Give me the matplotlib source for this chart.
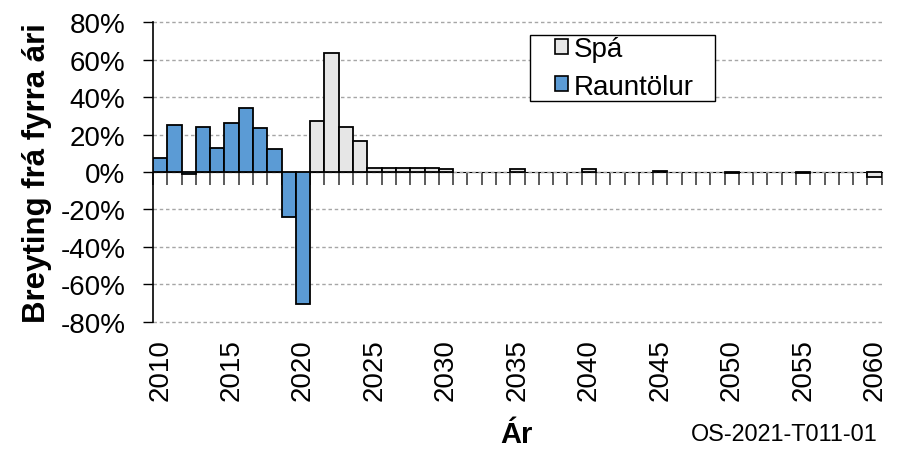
import numpy as np
import matplotlib
matplotlib.use("Agg")
import matplotlib.pyplot as plt
from matplotlib.ticker import FuncFormatter, MultipleLocator
from matplotlib.patches import Patch, Rectangle

plt.rcParams['font.family'] = ['Liberation Sans', 'DejaVu Sans']

# actual figures (Rauntölur)
actual_years = [2010, 2011, 2012, 2013, 2014, 2015, 2016, 2017, 2018, 2019, 2020]
actual_change = [7.3, 25.1, -1.1, 23.9, 12.7, 26.4, 34.2, 23.5, 12.3, -24.1, -70.4]

# forecast (Spá)
forecast_years = [2021, 2022, 2023, 2024, 2025, 2026, 2027, 2028, 2029, 2030,
                  2035, 2040, 2045, 2050, 2055, 2060]
forecast_change = [27.3, 63.8, 23.9, 16.4, 2.1, 2.1, 2.1, 2.1, 2.0, 1.8,
                   1.7, 1.4, 0.7, -0.3, -0.6, -2.7]

first_year, last_year = 2010, 2060
label_years = list(range(2010, 2061, 5))

blue = '#5B9BD5'
light = '#E6E6E6'

fig = plt.figure(figsize=(8.97, 4.56), dpi=100)
ax = fig.add_axes([0.1706, 0.2923, 0.8124, 0.6565])

ax.bar(np.array(forecast_years) - first_year, forecast_change, width=1.0,
       color=light, edgecolor='black', linewidth=1.3, zorder=3)
ax.bar(np.array(actual_years) - first_year, actual_change, width=1.0,
       color=blue, edgecolor='black', linewidth=1.3, zorder=3)

ax.set_xlim(-0.5, last_year - first_year + 0.5)
ax.set_ylim(-80, 80)

# y axis
ax.yaxis.set_major_locator(MultipleLocator(20))
ax.yaxis.set_major_formatter(FuncFormatter(lambda v, p: f"{v:.0f}%"))
ax.tick_params(axis='y', direction='out', length=7, width=1, labelsize=20, pad=13)
ax.yaxis.grid(True, linestyle=(0, (2.5, 2)), color='#a6a6a6', linewidth=1)
for gl in ax.get_ygridlines():
    gl.set_clip_on(False)
ax.set_axisbelow(True)

for s in ['top', 'right', 'bottom']:
    ax.spines[s].set_visible(False)
ax.spines['left'].set_linewidth(1.2)

# year labels at the bottom of the plot
ax.set_xticks([y - first_year for y in label_years])
ax.set_xticklabels([str(y) for y in label_years], rotation=90, fontsize=20)
ax.tick_params(axis='x', length=0, pad=12)

# category axis through zero with tick marks between bars
zero_axis = ax.secondary_xaxis(0.5)
zero_axis.set_xticks(np.arange(-0.5, last_year - first_year + 1.0, 1.0))
zero_axis.set_xticklabels([])
zero_axis.tick_params(axis='x', direction='in', length=9, width=1.2, color='#404040')
zero_axis.spines['bottom'].set_color('#8c8c8c')
zero_axis.spines['bottom'].set_linewidth(1.5)

# legend with a wide frame around it
handles = [Patch(facecolor=light, edgecolor='black', linewidth=1.2, label='Spá'),
           Patch(facecolor=blue, edgecolor='black', linewidth=1.2, label='Rauntölur')]
leg = ax.legend(handles=handles, loc='upper left', bbox_to_anchor=(0.552, 0.953),
                fontsize=20, frameon=False, handlelength=0.47, handleheight=0.47,
                handletextpad=0.18, borderpad=0, labelspacing=0.4,
                borderaxespad=0)
ax.add_patch(Rectangle((0.517, 0.737), 0.254, 0.221, transform=ax.transAxes,
                       facecolor='white', edgecolor='black', linewidth=1.0,
                       zorder=4, clip_on=False))
leg.set_zorder(5)

fig.text(0.041, 0.62, 'Breyting frá fyrra ári', rotation=90, ha='center',
         va='center', fontsize=22.5, fontweight='bold')
fig.text(0.576, 1 - 435 / 456, 'Ár', ha='center', va='center',
         fontsize=21, fontweight='bold')
fig.text(0.770, 1 - 435 / 456, 'OS-2021-T011-01', ha='left', va='center',
         fontsize=16.8)

fig.savefig('out.png', dpi=100)
